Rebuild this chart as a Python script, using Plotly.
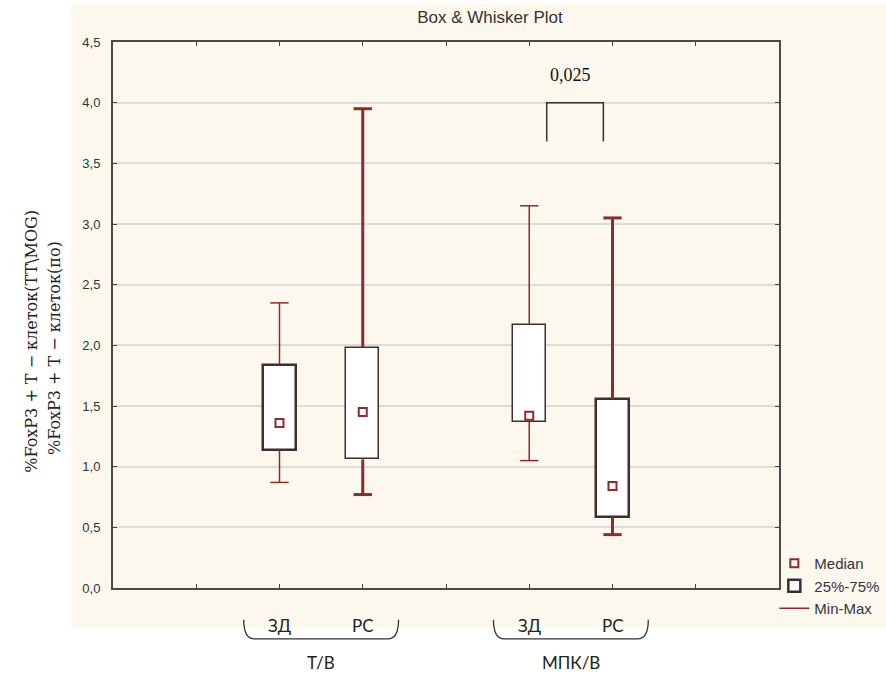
import plotly.graph_objects as go

# ---- data ----
categories = ["ЗД", "РС", "ЗД", "РС"]
group_names = ["Т/В", "МПК/В"]
group_centers = [2.5, 5.5]
positions = [2, 3, 5, 6]
mins = [0.87, 0.77, 1.05, 0.44]
q1 = [1.14, 1.06, 1.37, 0.585]
medians = [1.36, 1.45, 1.42, 0.84]
q3 = [1.84, 1.98, 2.17, 1.56]
maxs = [2.35, 3.95, 3.15, 3.05]
y_tickvals = [0.0, 0.5, 1.0, 1.5, 2.0, 2.5, 3.0, 3.5, 4.0, 4.5]
y_ticktext = ["0,0", "0,5", "1,0", "1,5", "2,0", "2,5", "3,0", "3,5", "4,0", "4,5"]
p_label = "0,025"
p_pair = [5, 6]

# ---- styles ----
box_line_w = [2.5, 1.5, 1.5, 2.5]
whisk_w = [1.5, 3, 1.5, 3]
red = "#8b2d2d"
dark = "#3b2f2f"
cap_half = 0.11
narrow = "Liberation Sans Narrow, Arial Narrow, Liberation Sans, Arial"

fig = go.Figure()

# median markers
fig.add_trace(go.Scatter(
    x=positions, y=medians, mode="markers", name="Median",
    marker=dict(symbol="square-open", size=8, color=red, line=dict(width=2, color=red)),
))

# boxes (25%-75%)
fig.add_trace(go.Bar(
    x=positions, y=[b - a for a, b in zip(q1, q3)], base=q1, width=0.4,
    name="25%-75%",
    marker=dict(color="white", line=dict(color=dark, width=box_line_w)),
))

# whiskers
for i, (px, lo, a, b, hi) in enumerate(zip(positions, mins, q1, q3, maxs)):
    xs = [px, px, None, px, px, None, px - cap_half, px + cap_half, None, px - cap_half, px + cap_half]
    ys = [b, hi, None, a, lo, None, hi, hi, None, lo, lo]
    fig.add_trace(go.Scatter(
        x=xs, y=ys, mode="lines", name="Min-Max", legendgroup="mm",
        showlegend=(i == 0),
        line=dict(color=red, width=whisk_w[i]),
    ))

# significance bracket
bracket_top = 4.0
bracket_drop = 3.68
bx0 = p_pair[0] + 0.21
bx1 = p_pair[1] - 0.11
fig.add_trace(go.Scatter(
    x=[bx0, bx0, bx1, bx1], y=[bracket_drop, bracket_top, bracket_top, bracket_drop],
    mode="lines", line=dict(color="#333333", width=1.5), showlegend=False, hoverinfo="skip",
))
fig.add_annotation(
    x=sum(p_pair) / 2, y=4.23, xref="x", yref="y", text=p_label, showarrow=False,
    font=dict(family="Liberation Serif, Times New Roman, serif", size=18, color="#111111"),
)

# cream background panel
fig.add_shape(type="rect", xref="paper", yref="paper", x0=-0.0631, x1=1.17, y0=-0.0714, y1=1.0696,
              fillcolor="#fdf8ee", line=dict(width=0), layer="below")

# category labels under the axis
for px, c in zip(positions, categories):
    fig.add_annotation(x=px, y=-0.068, xref="x", yref="paper", text=c, showarrow=False,
                       font=dict(family="Lato, Open Sans, sans-serif", size=17, color="#222222"),
                       yanchor="middle")

# braces and group labels
for gc, gname in zip(group_centers, group_names):
    x0 = gc - 0.93
    x1 = gc + 0.93
    yt = -0.058
    yb = -0.093
    path = (f"M {x0},{yt} Q {x0},{yb} {x0 + 0.13},{yb} "
            f"L {x1 - 0.13},{yb} Q {x1},{yb} {x1},{yt}")
    fig.add_shape(type="path", xref="x", yref="paper", path=path,
                  line=dict(color="#333333", width=1.3))
    fig.add_annotation(x=gc, y=-0.136, xref="x", yref="paper", text=gname, showarrow=False,
                       font=dict(family="Lato, Open Sans, sans-serif", size=17, color="#222222"),
                       yanchor="middle")

# y-axis title lines (rotated)
fig.add_annotation(x=-0.1396, y=0.452, xref="paper", yref="paper", textangle=-90,
                   text="%FoxP3 + T − клеток(TT\\MOG)", showarrow=False,
                   font=dict(family="DejaVu Serif, Liberation Serif, serif", size=16, color="#222222"))
fig.add_annotation(x=-0.104, y=0.44, xref="paper", yref="paper", textangle=-90,
                   text="%FoxP3 + T − клеток(по)", showarrow=False,
                   font=dict(family="DejaVu Serif, Liberation Serif, serif", size=16, color="#222222"))

fig.update_layout(
    width=886, height=675,
    margin=dict(l=113, r=107, t=42, b=87, autoexpand=False),
    paper_bgcolor="white", plot_bgcolor="white",
    title=dict(text="Box & Whisker Plot", x=0.566, xref="paper", xanchor="center",
               y=1 - 17 / 675, yref="container", yanchor="middle",
               font=dict(family=narrow, size=17, color="#333333")),
    showlegend=True,
    legend=dict(x=0.993, xanchor="left", y=0.075, yanchor="top", bgcolor="rgba(0,0,0,0)",
                font=dict(family=narrow, size=15, color="#333344"),
                itemwidth=30, tracegroupgap=0, traceorder="normal"),
    bargap=0,
)
fig.update_xaxes(range=[0, 8], tickvals=list(range(0, 9)), showticklabels=False,
                 ticks="inside", ticklen=4, tickcolor="#444444", mirror="ticks",
                 showline=True, linecolor="#4a4a4a", linewidth=2, showgrid=False, zeroline=False)
fig.update_yaxes(range=[0, 4.5], tickvals=y_tickvals, ticktext=y_ticktext,
                 ticks="inside", ticklen=4, tickcolor="#444444", mirror="ticks",
                 showline=True, linecolor="#4a4a4a", linewidth=2,
                 showgrid=True, gridcolor="#dcdcdc", gridwidth=1.5, zeroline=False,
                 tickfont=dict(family="Liberation Sans, Arial", size=13, color="#333333"),
                 ticklabelstandoff=8)

fig.write_html("out.html")
